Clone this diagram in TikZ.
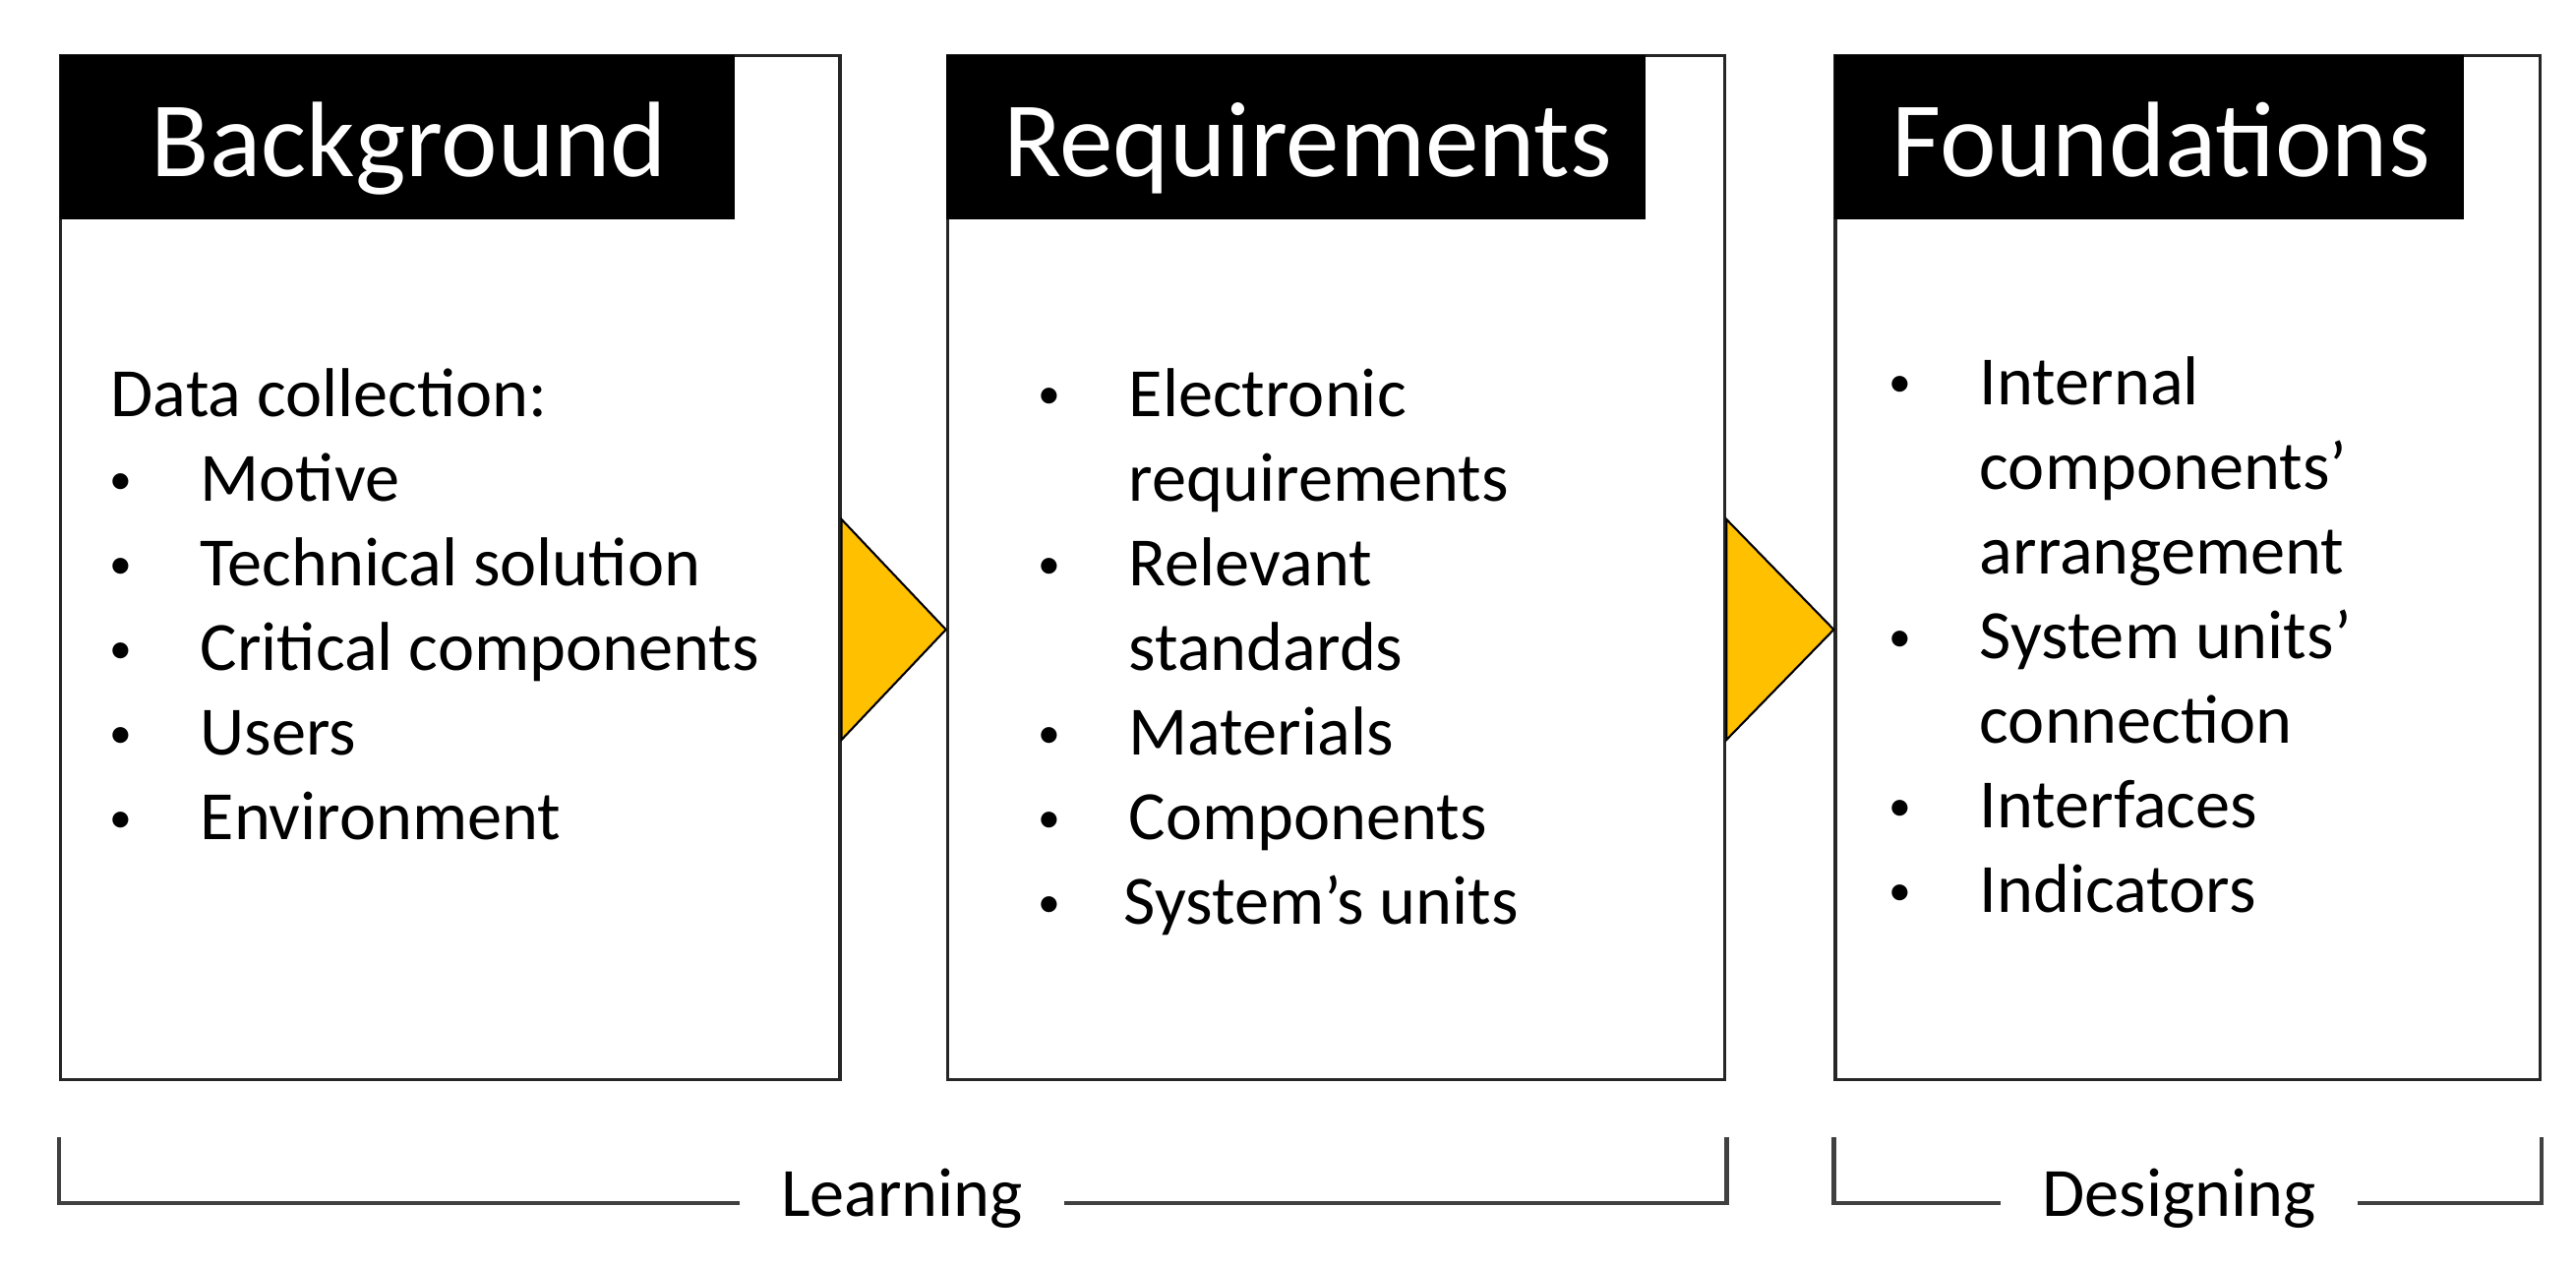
\documentclass[tikz,border=0pt]{standalone}
\usepackage{fontspec}
\setmainfont{Carlito}
\usetikzlibrary{positioning}
\definecolor{stagegold}{HTML}{FFC000}
\newsavebox\bulbox
\newcommand{\smallbul}{\sbox\bulbox{\textbullet}\makebox[\wd\bulbox][c]{\raisebox{2pt}{\fontsize{13}{13}\selectfont\textbullet}}}
\tikzstyle{stage} = [rectangle, draw=black!85, line width=0.9pt, minimum height=10.4cm, inner sep=0pt]
\tikzstyle{header} = [rectangle, fill=black, text=white, anchor=north west, minimum height=1.67cm, inner sep=0pt, font=\fontsize{31}{36}\selectfont, text height=23pt, text depth=0pt, execute at begin node=\hspace{6.8pt}]
\tikzstyle{items} = [anchor=base west, inner sep=0pt, font=\fontsize{20}{24.5}\selectfont]
\tikzstyle{pointer} = [fill=stagegold, draw=black, line width=0.6pt, line join=miter]
\tikzstyle{phase} = [inner xsep=0.415cm, inner ysep=0pt, text height=12pt, text depth=4.6pt, font=\fontsize{20}{24}\selectfont]
\tikzstyle{bracket} = [draw=black!75, line width=1.3pt]

\begin{document}
\begin{tikzpicture}[x=0.01cm, y=-0.01cm]
		\useasboundingbox (0,0) rectangle (2619,1288);

		\node (bg_box) [stage, minimum width=7.92cm, anchor=north west] at (60,55) {};
		\node (req_box) [stage, minimum width=7.90cm, right=1.06cm of bg_box] {};
		\node (fnd_box) [stage, minimum width=7.16cm, right=1.09cm of req_box] {};

		\node (bg_head) [header, minimum width=6.86cm] at (bg_box.north west) {Background};
		\node (req_head) [header, minimum width=7.10cm] at (req_box.north west) {Requirements};
		\node (fnd_head) [header, minimum width=6.40cm] at (fnd_box.north west) {Foundations};

		\node (bg_list) [items] at (104.6,423) {\begin{tabular}[t]{@{}p{28pt}@{}l@{}}
			\multicolumn{2}{@{}l@{}}{\hspace{2.1pt}Data collection:}\\
			\smallbul & Motive\\
			\smallbul & Technical solution\\
			\smallbul & Critical components\\
			\smallbul & Users\\
			\smallbul & Environment
		\end{tabular}};
		\node (req_list) [items] at (1048.6,423) {\begin{tabular}[t]{@{}p{28pt}@{}l@{}}
			\smallbul & Electronic\\
			 & requirements\\
			\smallbul & Relevant\\
			 & standards\\
			\smallbul & Materials\\
			\smallbul & Components\\
			\smallbul & \hspace{-1.4pt}System’s units
		\end{tabular}};
		\node (fnd_list) [items] at (1913.6,411) {\begin{tabular}[t]{@{}p{28pt}@{}l@{}}
			\smallbul & Internal\\
			 & components’\\
			 & arrangement\\
			\smallbul & System units’\\
			 & connection\\
			\smallbul & Interfaces\\
			\smallbul & Indicators
		\end{tabular}};

		% arrows between the stages
		\coordinate (tip_a) at (req_box.west |- 0,640);
		\coordinate (tip_b) at (fnd_box.west |- 0,640);
		\draw[pointer] (bg_box.east |- 0,528) -- (bg_box.east |- 0,752) -- (tip_a) -- cycle;
		\draw[pointer] (req_box.east |- 0,528) -- (req_box.east |- 0,752) -- (tip_b) -- cycle;

		% phases
		\node (learn_label) [phase] at (917,1223) {Learning};
		\draw[bracket] (bg_box.south west |- 0,1156) |- (learn_label.west);
		\draw[bracket] (learn_label.east) -| (req_box.south east |- 0,1156);

		\node (design_label) [phase] at (2215.5,1223) {Designing};
		\draw[bracket] (fnd_box.south west |- 0,1156) |- (design_label.west);
		\draw[bracket] (design_label.east) -| (fnd_box.south east |- 0,1156);
	\end{tikzpicture}
\end{document}
